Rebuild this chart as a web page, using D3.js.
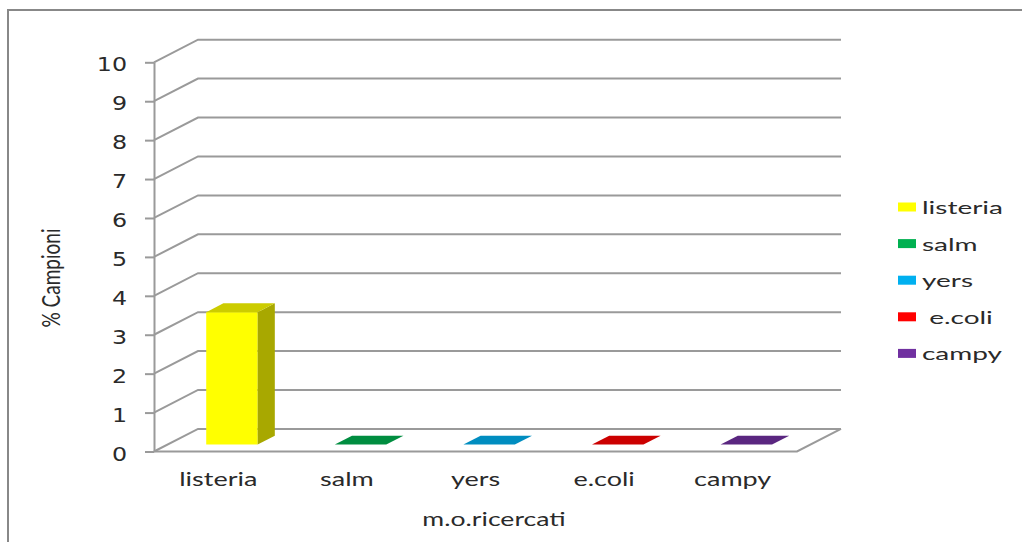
<!DOCTYPE html>
<html>
<head>
<meta charset="utf-8">
<script src="https://cdn.jsdelivr.net/npm/d3@7"></script>
<style>
  html, body { margin: 0; padding: 0; background: #fff; }
  svg { display: block; }
  text { white-space: pre; }
</style>
</head>
<body>
<script>
// Data
const categories = ["listeria", "salm", "yers", "e.coli", "campy"];
const values = [3.4, 0, 0, 0, 0];
const legendLabels = ["listeria", "salm", "yers", " e.coli", "campy"];
const yTicks = [0, 1, 2, 3, 4, 5, 6, 7, 8, 9, 10];
const palette = ["#FFFF00", "#00B050", "#00B0F0", "#FF0000", "#7030A0"];

const W = 1022, H = 542;
const svg = d3.select("body").append("svg").attr("width", W).attr("height", H);

// Outer frame (runs past the right and bottom edges)
svg.append("rect")
  .attr("x", 8).attr("y", 10).attr("width", 1040).attr("height", 560)
  .attr("fill", "none").attr("stroke", "#888").attr("stroke-width", 2);

// Plot geometry: front plane plus a receding depth vector
const frontLeft = 154, frontRight = 797;
const depth = { dx: 44, dy: -22.6 };
const gridColor = "#9a9a9a";
const textColor = "#2a2a2a";

const x = d3.scaleBand().domain(categories).range([frontLeft, frontRight]);
const y = d3.scaleLinear().domain([0, 10]).range([451.5, 62.3]);

// Shade a colour for the lit/unlit faces of the 3D columns
function shade(c, k) {
  const r = d3.rgb(c);
  return d3.rgb(r.r * k, r.g * k, r.b * k).formatHex();
}

// Back wall gridlines with their diagonal run from the axis
const grid = svg.append("g").attr("fill", "none").attr("stroke", gridColor).attr("stroke-width", 2);
grid.selectAll("path.gl").data(yTicks).join("path")
  .attr("class", "gl")
  .attr("d", t => {
    const py = y(t);
    return `M${frontLeft},${py} L${frontLeft + depth.dx},${py + depth.dy} L${frontRight + depth.dx},${py + depth.dy}`;
  });

// Floor front edge and right edge
grid.append("path")
  .attr("d", `M${frontLeft},${y(0)} L${frontRight},${y(0)} L${frontRight + depth.dx},${y(0) + depth.dy}`);

// Y axis
const yAxis = d3.axisLeft(y).tickValues(yTicks).tickSize(9).tickSizeOuter(0);
const axisG = svg.append("g").attr("transform", `translate(${frontLeft},0)`).call(yAxis);
axisG.select(".domain").attr("stroke", gridColor).attr("stroke-width", 2);
axisG.selectAll(".tick line").attr("stroke", gridColor).attr("stroke-width", 2);
axisG.selectAll(".tick text")
  .attr("x", null).attr("dy", null)
  .attr("text-anchor", "end")
  .attr("transform", "translate(-27,8.5) scale(1.25,1)")
  .attr("font-family", "DejaVu Sans")
  .attr("font-size", 19)
  .attr("fill", textColor);

// 3D columns
const f0 = 0.31, f1 = 0.70;
const bw = x.bandwidth() * 0.4;
const ddx = (f1 - f0) * depth.dx, ddy = (f1 - f0) * depth.dy;

const bars = svg.append("g").selectAll("g").data(categories).join("g");
bars.each(function (c, i) {
  const g = d3.select(this);
  const v = values[i];
  const col = palette[i];
  const bx = x(c) + x.bandwidth() / 2 - bw / 2 + f0 * depth.dx;
  const yb = y(0) + f0 * depth.dy;
  const yt = y(v) + f0 * depth.dy;
  if (v > 0) {
    g.append("rect").attr("x", bx).attr("y", yt).attr("width", bw).attr("height", yb - yt)
      .attr("fill", col);
    g.append("path")
      .attr("d", `M${bx + bw},${yt} L${bx + bw + ddx},${yt + ddy} L${bx + bw + ddx},${yb + ddy} L${bx + bw},${yb} Z`)
      .attr("fill", shade(col, 0.66));
  }
  g.append("path")
    .attr("d", `M${bx},${yt} L${bx + bw},${yt} L${bx + bw + ddx},${yt + ddy} L${bx + ddx},${yt + ddy} Z`)
    .attr("fill", shade(col, 0.8));
});

// Category labels
svg.append("g").selectAll("text").data(categories).join("text")
  .attr("transform", c => `translate(${x(c) + x.bandwidth() / 2},486) scale(1.35,1)`)
  .attr("text-anchor", "middle")
  .attr("font-family", "Lato")
  .attr("font-size", 20)
  .attr("fill", textColor)
  .text(c => c);

// Axis titles
svg.append("text")
  .attr("transform", "translate(494,526) scale(1.4,1)")
  .attr("text-anchor", "middle")
  .attr("font-family", "Lato")
  .attr("font-size", 19)
  .attr("fill", textColor)
  .text("m.o.ricercati");

svg.append("text")
  .attr("transform", "translate(60,278) scale(1.3,1) rotate(-90)")
  .attr("text-anchor", "middle")
  .attr("font-family", "Lato")
  .attr("font-size", 19)
  .attr("fill", textColor)
  .text("% Campioni");

// Legend
const legend = svg.append("g").selectAll("g").data(legendLabels).join("g")
  .attr("transform", (d, i) => `translate(898,${207 + i * 36.6})`);
legend.append("rect")
  .attr("x", 0).attr("y", -4.5).attr("width", 18).attr("height", 9)
  .attr("fill", (d, i) => palette[i]);
legend.append("text")
  .attr("transform", "translate(24,7) scale(1.6,1)")
  .attr("font-family", "Lato")
  .attr("font-size", 17.5)
  .attr("fill", textColor)
  .text(d => d);
</script>
</body>
</html>
